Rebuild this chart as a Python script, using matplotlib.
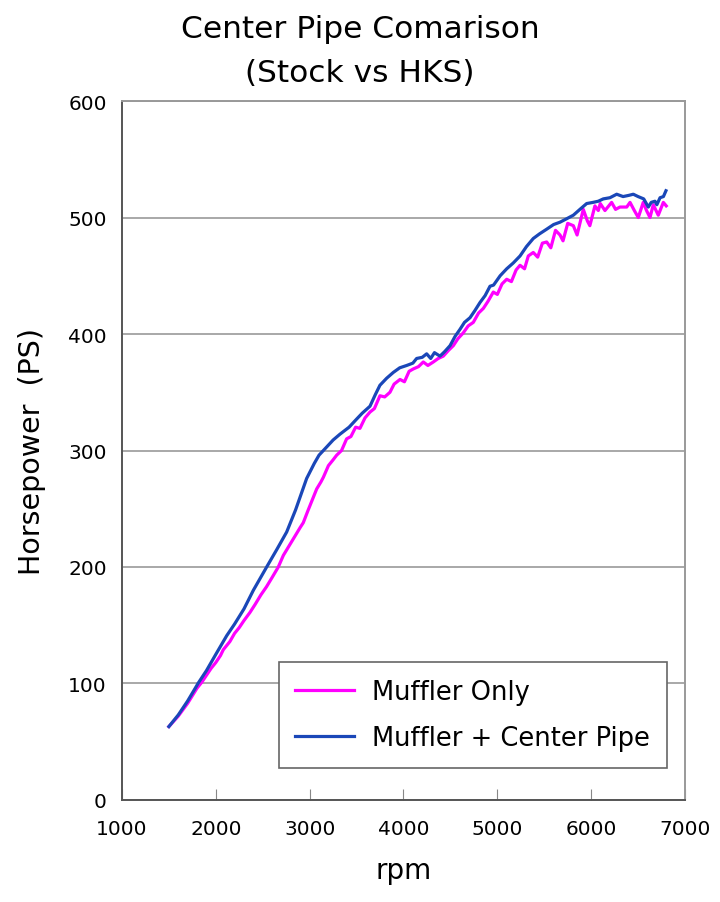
import matplotlib.pyplot as plt

# Muffler Only (magenta)
rpm_muffler = [1500, 1600, 1700, 1800, 1850, 1900, 1950, 2000, 2050, 2080, 2150, 2200, 2250,
               2300, 2364, 2420, 2480, 2540, 2600, 2666, 2720, 2780, 2840, 2900, 2932, 2980,
               3030, 3075, 3120, 3146, 3200, 3250, 3288, 3340, 3394, 3440, 3490, 3536, 3590,
               3643, 3690, 3749, 3800, 3856, 3900, 3963, 4010, 4060, 4104, 4160, 4211, 4260,
               4318, 4370, 4424, 4480, 4531, 4580, 4637, 4690, 4744, 4800, 4851, 4900, 4957,
               5000, 5050, 5100, 5150, 5200, 5242, 5290, 5330, 5383, 5430, 5480, 5526, 5570,
               5620, 5668, 5700, 5750, 5810, 5850, 5916, 5960, 5986, 6040, 6076, 6097, 6147,
               6218, 6260, 6307, 6379, 6414, 6460, 6502, 6555, 6590, 6627, 6662, 6715, 6769,
               6800]
ps_muffler = [63, 72, 83, 96, 101, 107, 113, 118, 124, 129, 136, 143, 148,
              154, 161, 168, 176, 183, 191, 200, 210, 218, 226, 234, 238, 248,
              258, 267, 273, 277, 287, 292, 296, 300, 310, 312, 320, 319, 328,
              333, 336, 347, 346, 350, 357, 361, 359, 368, 370, 372, 376, 373,
              376, 379, 381, 386, 390, 396, 401, 407, 410, 418, 422, 428, 436,
              434, 443, 447, 445, 455, 459, 456, 467, 470, 466, 478, 479, 474,
              489, 485, 480, 495, 493, 485, 507, 497, 493, 510, 506, 512, 506,
              513, 507, 509, 509, 513, 506, 500, 513, 506, 500, 511, 502, 513,
              510]

# Muffler + Center Pipe (blue)
rpm_pipe = [1500, 1600, 1700, 1796, 1810, 1900, 2000, 2116, 2200, 2300, 2400, 2542, 2650,
            2755, 2850, 2968, 3050, 3100, 3181, 3250, 3323, 3420, 3501, 3560, 3643, 3700,
            3749, 3820, 3891, 3960, 4034, 4100, 4140, 4200, 4247, 4290, 4330, 4389, 4440,
            4496, 4550, 4602, 4650, 4709, 4760, 4815, 4870, 4922, 4960, 5030, 5100, 5170,
            5242, 5310, 5383, 5450, 5526, 5600, 5668, 5740, 5810, 5880, 5952, 6020, 6076,
            6129, 6200, 6272, 6340, 6400, 6449, 6500, 6560, 6609, 6640, 6680, 6700, 6734,
            6770, 6797]
ps_pipe = [63, 73, 85, 98, 100, 111, 125, 141, 151, 164, 180, 200, 215,
           230, 249, 276, 289, 296, 303, 309, 314, 320, 327, 332, 338, 348,
           356, 362, 367, 371, 373, 375, 379, 380, 383, 379, 384, 381, 385,
           390, 398, 404, 410, 414, 420, 427, 433, 441, 442, 450, 456, 461,
           467, 475, 482, 486, 490, 494, 496, 499, 502, 507, 512, 513, 514,
           516, 517, 520, 518, 519, 520, 518, 516, 509, 513, 514, 511, 517,
           518, 523]

x_ticks = [1000, 2000, 3000, 4000, 5000, 6000, 7000]
y_ticks = [0, 100, 200, 300, 400, 500, 600]

plt.rcParams['font.family'] = ['DejaVu Sans']

fig = plt.figure(figsize=(7.2, 9.03), dpi=100)
ax = fig.add_axes([0.1694, 0.113, 0.782, 0.774])

ax.plot(rpm_muffler, ps_muffler, color='#ff00ff', lw=2.3, label='Muffler Only', zorder=3)
ax.plot(rpm_pipe, ps_pipe, color='#1a47b8', lw=2.3, label='Muffler + Center Pipe', zorder=4)

ax.set_xlim(1000, 7000)
ax.set_ylim(0, 600)
ax.set_xticks(x_ticks)
ax.set_yticks(y_ticks)
ax.tick_params(axis='x', direction='in', length=8, color='#888888', pad=14, labelsize=14.5)
ax.tick_params(axis='y', length=0, pad=11, labelsize=14.5)
ax.yaxis.grid(True, color='#9a9a9a', lw=1.2)
ax.set_axisbelow(True)

for side in ['left', 'bottom']:
    ax.spines[side].set_color('#555555')
    ax.spines[side].set_linewidth(1.4)
for side in ['top', 'right']:
    ax.spines[side].set_color('#999999')
    ax.spines[side].set_linewidth(1.4)

ax.set_xlabel('rpm', fontsize=20, labelpad=13)
ax.set_ylabel('Horsepower  (PS)', fontsize=20.5, labelpad=16)
fig.text(0.5, 1 - 30 / 903, 'Center Pipe Comarison', fontsize=22.5, ha='center', va='center')
fig.text(0.5, 1 - 73 / 903, '(Stock vs HKS)', fontsize=22.5, ha='center', va='center')

leg = ax.legend(loc='lower right', bbox_to_anchor=(0.968, 0.0458), fontsize=18.5,
                handlelength=2.3, frameon=True, fancybox=False, framealpha=1,
                borderpad=0.65, labelspacing=0.8, handletextpad=0.7, borderaxespad=0)
leg.get_frame().set_edgecolor('#666666')
leg.get_frame().set_linewidth(1.2)

fig.savefig('out.png', dpi=100)
